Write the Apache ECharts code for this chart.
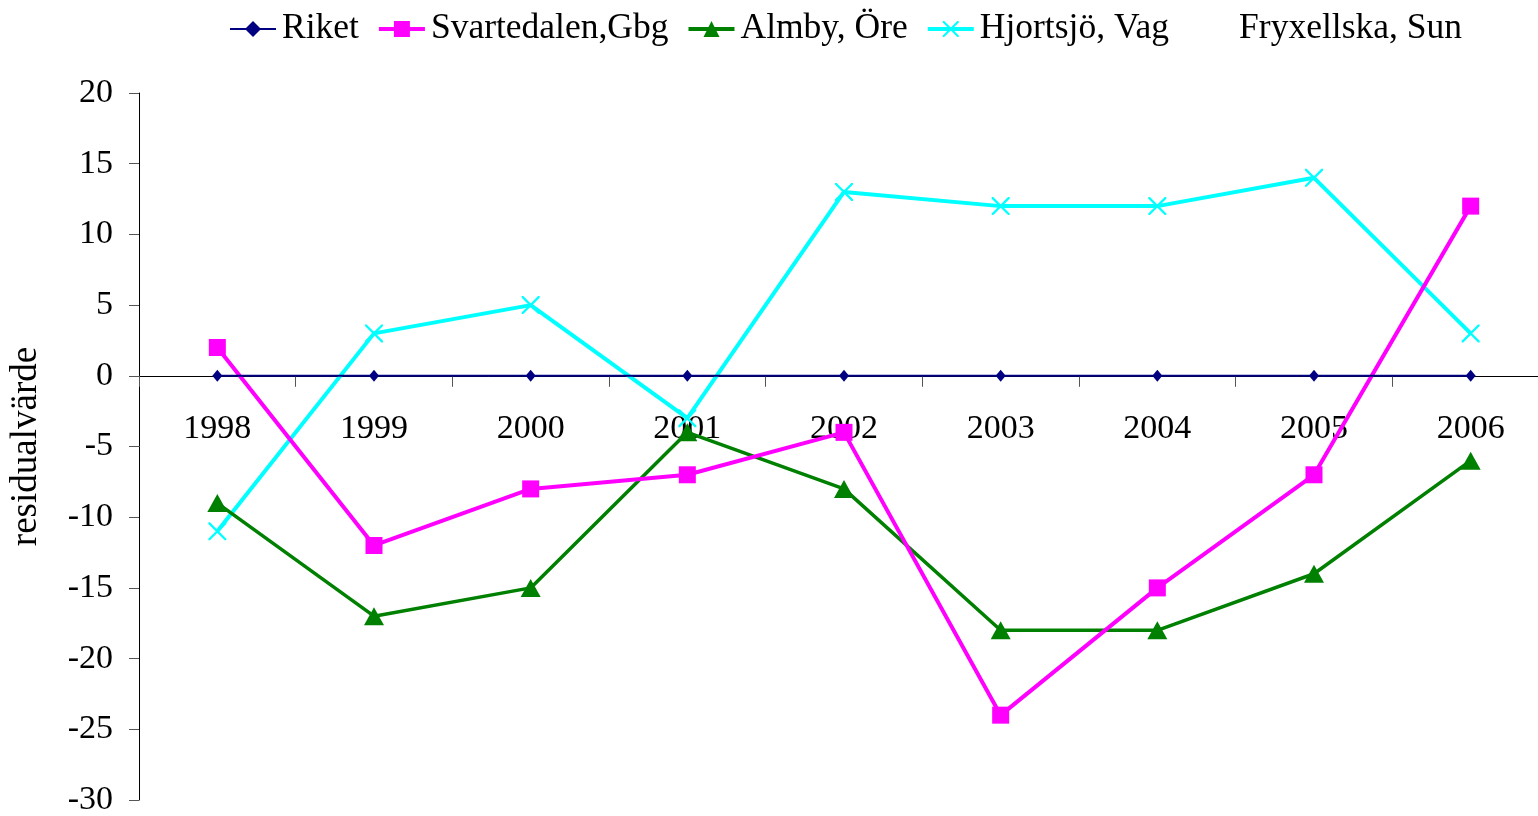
<!DOCTYPE html>
<html>
<head>
<meta charset="utf-8">
<script src="https://cdn.jsdelivr.net/npm/echarts@6/dist/echarts.min.js"></script>
<style>
html,body{margin:0;padding:0;background:#fff;}
#chart{width:1538px;height:816px;}
</style>
</head>
<body>
<div id="chart"></div>
<script>
const years = ['1998','1999','2000','2001','2002','2003','2004','2005','2006'];
const riket = [0,0,0,0,0,0,0,0,0];
const svartedalen = [2,-12,-8,-7,-4,-24,-15,-7,12];
const almby = [-9,-17,-15,-4,-8,-18,-18,-14,-6];
const hjortsjo = [-11,3,5,-3,13,12,12,14,3];
const fryxellska = [];
const yTicks = {min:-30, max:20, interval:5};

const FONT = 'Liberation Serif';
const xPath = 'path://M0,0L0.9,0L10,9.1L10,10L9.1,10L0,0.9Z M9.1,0L10,0L10,0.9L0.9,10L0,10L0,9.1Z';

const gridTop = 93, gridBottomPx = 800;
const zeroOffset = -((gridBottomPx - gridTop) * (0 - yTicks.min) / (yTicks.max - yTicks.min));

const chart = echarts.init(document.getElementById('chart'));
chart.setOption({
  animation:false,
  backgroundColor:'#fff',
  textStyle:{fontFamily:FONT},
  legend:{
    left:224, top:6,
    itemWidth:46, itemHeight:20, itemGap:18,
    textStyle:{fontFamily:FONT,fontSize:35.5,color:'#000',padding:[0,0,0,1]},
    data:[
      {name:'Riket', lineStyle:{width:2}},
      {name:'Svartedalen,Gbg', lineStyle:{width:4}},
      {name:'Almby, Öre', lineStyle:{width:4}},
      {name:'Hjortsjö, Vag', lineStyle:{width:4}},
      {name:'Fryxellska, Sun', icon:'none'}
    ]
  },
  grid:{left:139, right:-11, top:gridTop, bottom:816-gridBottomPx, containLabel:false, outerBoundsMode:'none'},
  xAxis:{
    type:'category', data:years, boundaryGap:true,
    offset: zeroOffset,
    axisLine:{onZero:false, lineStyle:{color:'#000',width:1}},
    axisTick:{show:true, length:11, interval:0, lineStyle:{color:'#555'}},
    axisLabel:{fontFamily:FONT,fontSize:34,color:'#000',margin:36,interval:0},
    splitLine:{show:false}
  },
  yAxis:{
    type:'value', min:yTicks.min, max:yTicks.max, interval:yTicks.interval,
    name:'residualvärde', nameLocation:'middle', nameGap:94, nameRotate:90,
    nameTextStyle:{fontFamily:FONT,fontSize:37,color:'#000'},
    axisLine:{show:true, lineStyle:{color:'#000',width:1}},
    axisTick:{show:true, length:10, lineStyle:{color:'#555'}},
    axisLabel:{fontFamily:FONT,fontSize:34,color:'#000',margin:26},
    splitLine:{show:false}
  },
  series:[
    {name:'Hjortsjö, Vag', type:'line', data:hjortsjo, symbol:xPath, symbolSize:18,
      itemStyle:{color:'#00FFFF'}, lineStyle:{color:'#00FFFF',width:4}, z:3},
    {name:'Almby, Öre', type:'line', data:almby, symbol:'triangle', symbolSize:[20,18],
      itemStyle:{color:'#008000'}, lineStyle:{color:'#008000',width:3.5}, z:4},
    {name:'Svartedalen,Gbg', type:'line', data:svartedalen, symbol:'rect', symbolSize:17,
      itemStyle:{color:'#FF00FF'}, lineStyle:{color:'#FF00FF',width:4}, z:5},
    {name:'Riket', type:'line', data:riket, symbol:'diamond', symbolSize:[10,12],
      itemStyle:{color:'#000080'}, lineStyle:{color:'#000080',width:2}, z:6},
    {name:'Fryxellska, Sun', type:'line', data:fryxellska, symbol:'none',
      itemStyle:{color:'rgba(0,0,0,0)'}, lineStyle:{color:'rgba(0,0,0,0)',width:0}}
  ]
});
</script>
</body>
</html>
